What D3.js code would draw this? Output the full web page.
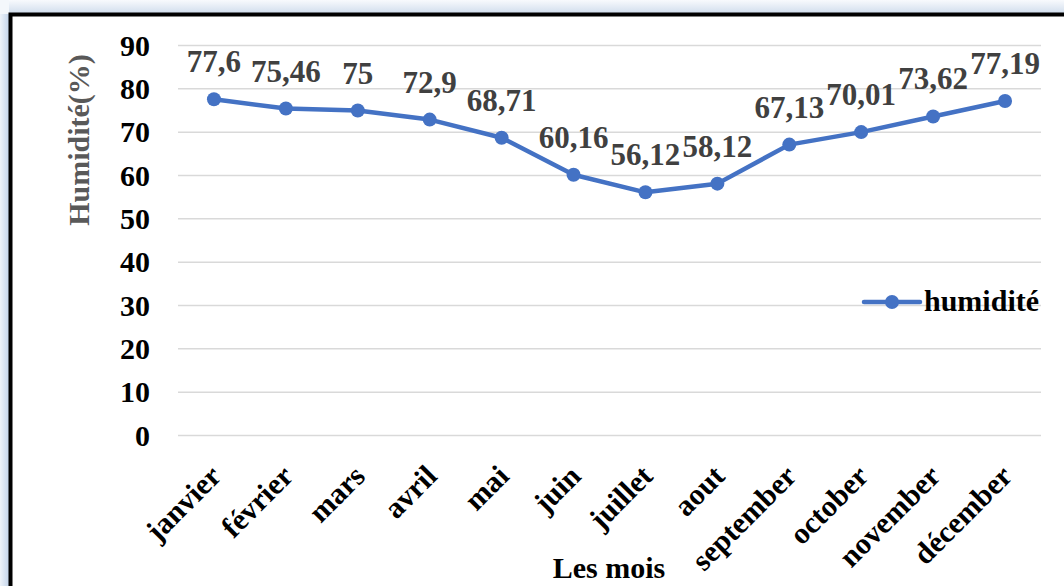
<!DOCTYPE html>
<html><head><meta charset="utf-8">
<script src="https://cdn.jsdelivr.net/npm/d3@7"></script>
<style>html,body{margin:0;padding:0;background:#fff;}svg{display:block;}</style>
</head><body>
<svg id="chart" width="1064" height="586"></svg>
<script>
const months = ["janvier","février","mars","avril","mai","juin","juillet","aout","september","october","november","décember"];
const humidity = [77.6,75.46,75,72.9,68.71,60.16,56.12,58.12,67.13,70.01,73.62,77.19];
const valueLabels = ["77,6","75,46","75","72,9","68,71","60,16","56,12","58,12","67,13","70,01","73,62","77,19"];
const yTicks = [0,10,20,30,40,50,60,70,80,90];
const seriesName = "humidité";
const yTitle = "Humidité(%)";
const xTitle = "Les mois";

const svg = d3.select("#chart");
const FONT = "'Liberation Serif','Times New Roman',serif";
const blue = "#4472C4";

// frame glow + border
const defs = svg.append("defs");
const gl = defs.append("linearGradient").attr("id","gl").attr("x1","0").attr("x2","1").attr("y1","0").attr("y2","0");
gl.append("stop").attr("offset","0").attr("stop-color","#eef3f9");
gl.append("stop").attr("offset","1").attr("stop-color","#c3d4ea");
const gt = defs.append("linearGradient").attr("id","gt").attr("x1","0").attr("x2","0").attr("y1","0").attr("y2","1");
gt.append("stop").attr("offset","0").attr("stop-color","#f8fafd");
gt.append("stop").attr("offset","1").attr("stop-color","#cfdcec");
svg.append("rect").attr("x",0).attr("y",0).attr("width",1064).attr("height",14).attr("fill","url(#gt)");
svg.append("rect").attr("x",0).attr("y",0).attr("width",9).attr("height",586).attr("fill","url(#gl)");
svg.append("rect").attr("x",0).attr("y",0).attr("width",9).attr("height",14).attr("fill","#f4f7fb");
svg.append("rect").attr("x",10.5).attr("y",14.5).attr("width",1070).attr("height",600)
  .attr("fill","#fff").attr("stroke","#000").attr("stroke-width",4);

const x = d3.scalePoint().domain(months).range([178,1041]).padding(0.5);
const y = d3.scaleLinear().domain([0,90]).range([435.5,45.5]);

// gridlines
svg.append("g").selectAll("line").data(yTicks).join("line")
  .attr("x1",178).attr("x2",1041).attr("y1",d=>y(d)).attr("y2",d=>y(d))
  .attr("stroke","#d9d9d9").attr("stroke-width",1.5);

// y axis labels
const yAxis = d3.axisLeft(y).tickValues(yTicks).tickSize(0).tickPadding(0);
const yg = svg.append("g").attr("transform","translate(150,0)").call(yAxis);
yg.select(".domain").remove();
yg.selectAll("text").attr("font-family",FONT).attr("font-weight","bold").attr("font-size",30).attr("fill","#000");

// x axis labels
const xAxis = d3.axisBottom(x).tickSize(0).tickPadding(0);
const xg = svg.append("g").attr("transform","translate(0,435.5)").call(xAxis);
xg.select(".domain").remove();
xg.selectAll("text")
  .attr("font-family",FONT).attr("font-weight","bold").attr("font-size",30).attr("fill","#000")
  .attr("text-anchor","end").attr("dy",null).attr("y",0)
  .attr("dominant-baseline","central")
  .attr("transform","translate(1,35) rotate(-45)");

// titles
svg.append("text").attr("transform","translate(89,140) rotate(-90)")
  .attr("text-anchor","middle").attr("font-family",FONT).attr("font-weight","bold")
  .attr("font-size",30).attr("fill","#595959").text(yTitle);
svg.append("text").attr("x",609).attr("y",578).attr("text-anchor","middle")
  .attr("font-family",FONT).attr("font-weight","bold").attr("font-size",30).attr("fill","#000").text(xTitle);

// line
const line = d3.line().x((d,i)=>x(months[i])).y(d=>y(d));
svg.append("path").datum(humidity).attr("d",line).attr("fill","none")
  .attr("stroke",blue).attr("stroke-width",4.5).attr("stroke-linejoin","round");
svg.append("g").selectAll("circle").data(humidity).join("circle")
  .attr("cx",(d,i)=>x(months[i])).attr("cy",d=>y(d)).attr("r",7).attr("fill",blue);

// value labels
svg.append("g").selectAll("text").data(humidity).join("text")
  .attr("x",(d,i)=>x(months[i])).attr("y",d=>y(d)-27)
  .attr("text-anchor","middle").attr("font-family",FONT).attr("font-weight","bold")
  .attr("font-size",31).attr("fill","#404040").text((d,i)=>valueLabels[i]);

// legend
const lg = svg.append("g");
lg.append("line").attr("x1",864).attr("x2",920).attr("y1",302).attr("y2",302).attr("stroke",blue).attr("stroke-width",4.5).attr("stroke-linecap","round");
lg.append("circle").attr("cx",892).attr("cy",302).attr("r",7).attr("fill",blue);
lg.append("text").attr("x",924).attr("y",311).attr("font-family",FONT).attr("font-weight","bold")
  .attr("font-size",30).attr("fill","#000").text(seriesName);
</script>
</body></html>
